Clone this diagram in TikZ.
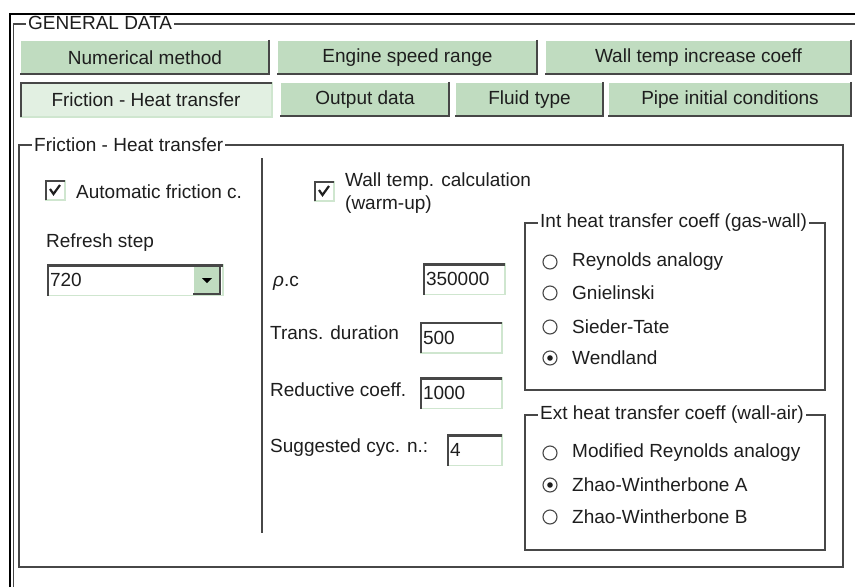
\documentclass[tikz,border=0pt]{standalone}
\usepackage{fontspec}
\setmainfont{Liberation Sans}
\definecolor{tabgreen}{HTML}{C0DCC0}
\definecolor{tabsel}{HTML}{E2F0E2}
\definecolor{edge}{HTML}{474747}
\definecolor{txt}{HTML}{1E1E1E}
\definecolor{fieldedge}{HTML}{CFE6CF}
\tikzset{
  gui/.style={font=\fontsize{19}{23}\selectfont, text=txt},
  tab/.style={fill=tabgreen, inner sep=0pt, minimum height=35pt},
  seltab/.style={tab, fill=tabsel},
  lbl/.style={anchor=west, inner sep=0pt},
  title/.style={anchor=west, fill=white, inner xsep=2pt, inner ysep=0pt},
  groupline/.style={draw=edge, line width=1.6pt},
  field/.style={fill=white, inner xsep=3pt, inner ysep=0pt, minimum height=31pt, text width=#1, align=left},
  tick/.style={fill=white, minimum size=20pt, inner sep=0pt},
  radio/.style={circle, draw=edge, line width=1.1pt, minimum size=14pt, inner sep=0pt}
}
\newcommand{\bevelup}[1]{%
  \draw[white, line width=1.5pt] (#1.south west) |- (#1.north east);
  \draw[edge, line width=2.4pt] ([xshift=-1.2pt]#1.north east) |- ([yshift=1.2pt]#1.south west);}
\newcommand{\beveldown}[1]{%
  \draw[fieldedge, line width=1.5pt] (#1.south west) -| (#1.north east);
  \draw[edge, line width=2.4pt] ([xshift=1.2pt]#1.south west) |- ([yshift=-1.2pt]#1.north east);}
\newcommand{\tickmark}[1]{%
  \draw[txt, line width=2.2pt] ([shift={(-5,-1)}]#1.center) -- ([shift={(-1.5,4)}]#1.center) -- ([shift={(5,-5)}]#1.center);}
\begin{document}
\begin{tikzpicture}[x=1pt, y=-1pt, gui]
    \useasboundingbox[fill=white] (0,0) rectangle (855,587);

    \draw[black, line width=2.2pt] (10,587) -- (10,14) -- (855,14);
    \draw[edge, line width=1.5pt] (13.5,587) -- (13.5,24) -- (855,24);
    \node[title] (general) at (26,23) {GENERAL DATA};

    \node[tab, minimum width=250pt] (tnum) at (145,57.5) {Numerical method};
    \node[tab, minimum width=261pt] (tspeed) at (407.5,57.5) {Engine speed range};
    \node[tab, minimum width=307pt] (twall) at (698.5,57.5) {Wall temp increase coeff};
    \node[seltab, minimum width=252pt] (tfric) at (146,99.5) {Friction - Heat transfer};
    \node[tab, minimum width=170pt] (tout) at (365,99.5) {Output data};
    \node[tab, minimum width=149pt] (tfluid) at (529.5,99.5) {Fluid type};
    \node[tab, minimum width=244pt] (tpipe) at (730,99.5) {Pipe initial conditions};
    \bevelup{tnum} \bevelup{tspeed} \bevelup{twall}
    \beveldown{tfric} \bevelup{tout} \bevelup{tfluid} \bevelup{tpipe}

    \draw[groupline] (19,145) rectangle (843,567);
    \node[title] (fricgroup) at (32,145) {Friction - Heat transfer};
    \draw[groupline] (262,158) -- (262,533);

    \node[tick] (autocb) at (55,190) {};
    \beveldown{autocb} \tickmark{autocb}
    \node[lbl] (autotxt) at (76,192) {Automatic friction c.};

    \node[lbl] (refresh) at (46,243) {Refresh step};
    \node[field=170pt] (combo) at (135,280) {720};
    \node[tab, minimum width=28pt, minimum height=30pt] (drop) at (207,280) {};
    \bevelup{drop} \beveldown{combo}
    \fill[black] ([shift={(-5,-2)}]drop.center) -- ([shift={(5,-2)}]drop.center) -- ([shift={(0,3)}]drop.center) -- cycle;

    \node[tick] (wallcb) at (324,191) {};
    \beveldown{wallcb} \tickmark{wallcb}
    \node[lbl, align=left] (walltxt) at (345,193) {Wall temp. calculation\\(warm-up)};

    \node[lbl] (rhoc) at (273,283) {\textit{ρ}.c};
    \node[field=76pt] (rhocval) at (464,279) {350000};
    \node[lbl] (trans) at (270,333) {Trans. duration};
    \node[field=76pt] (transval) at (461,337.5) {500};
    \node[lbl] (reduct) at (270,390) {Reductive coeff.};
    \node[field=76pt] (reductval) at (461,393) {1000};
    \node[lbl] (cycles) at (270,448) {Suggested cyc. n.:};
    \node[field=49pt] (cyclesval) at (474.5,450) {4};
    \beveldown{rhocval} \beveldown{transval} \beveldown{reductval} \beveldown{cyclesval}

    \draw[groupline] (525,223) rectangle (825,390);
    \node[title] (intgroup) at (538,223) {Int heat transfer coeff (gas-wall)};
    \node[radio] (ra) at (550,262) {};   \node[lbl] (ratxt) at (572,262) {Reynolds analogy};
    \node[radio] (rb) at (550,293) {};   \node[lbl] (rbtxt) at (572,293) {Gnielinski};
    \node[radio] (rc) at (550,327) {};   \node[lbl] (rctxt) at (572,327) {Sieder-Tate};
    \node[radio] (rd) at (550,358) {};   \node[lbl] (rdtxt) at (572,358) {Wendland};
    \fill[txt] (rd.center) circle (2.8pt);

    \draw[groupline] (525,415) rectangle (825,550);
    \node[title] (extgroup) at (538,415) {Ext heat transfer coeff (wall-air)};
    \node[radio] (re) at (550,453) {};   \node[lbl] (retxt) at (572,453) {Modified Reynolds analogy};
    \node[radio] (rf) at (550,485) {};   \node[lbl] (rftxt) at (572,485) {Zhao-Wintherbone A};
    \node[radio] (rg) at (550,517) {};   \node[lbl] (rgtxt) at (572,517) {Zhao-Wintherbone B};
    \fill[txt] (rf.center) circle (2.8pt);
  \end{tikzpicture}
\end{document}
